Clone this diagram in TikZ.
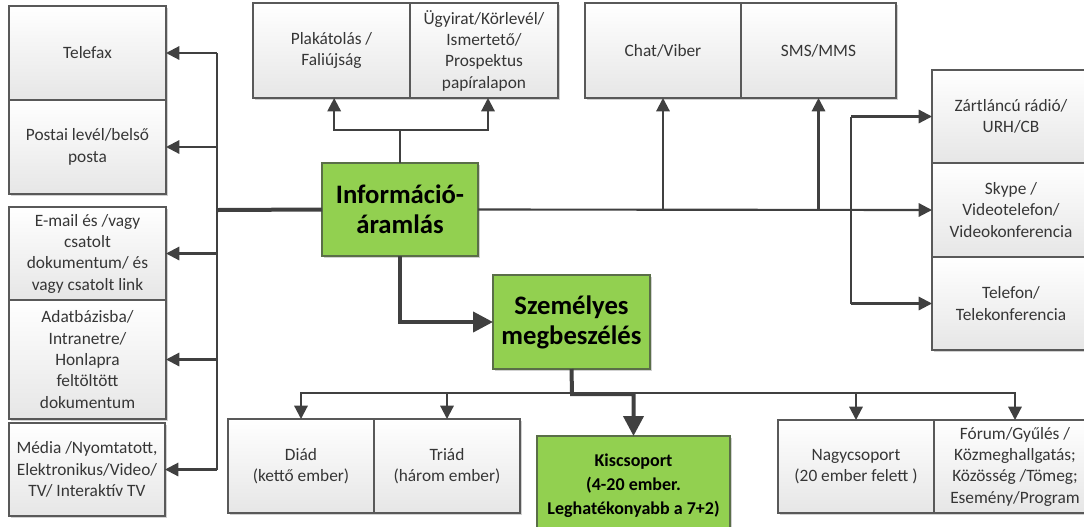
\documentclass[tikz,border=0pt]{standalone}
\usepackage{fontspec}
\setmainfont{Carlito}
\usetikzlibrary{arrows.meta,shadows}

\definecolor{ln}{HTML}{404040}
\definecolor{boxline}{HTML}{595959}
\definecolor{txt}{HTML}{363636}
\definecolor{gfill}{HTML}{92D050}
\definecolor{gline}{HTML}{5A6E48}
\definecolor{boxbot}{HTML}{E6E6E6}

\tikzset{
  sz/.style 2 args={minimum width=#1*0.75pt, minimum height=#2*0.75pt},
  base/.style={inner sep=1pt, outer sep=0pt, align=center,
    drop shadow={shadow xshift=1.2pt, shadow yshift=-1.2pt, opacity=0.18, fill=black}},
  box/.style={base, draw=boxline, line width=0.8pt, top color=white, bottom color=boxbot,
    text=txt, font=\fontsize{13}{16}\selectfont},
  gbox/.style={base, draw=gline, line width=0.8pt, fill=gfill, text=black},
  bigtxt/.style={font=\fontsize{20}{22.5}\selectfont\bfseries},
  midtxt/.style={font=\fontsize{13.5}{18.2}\selectfont\bfseries},
  conn/.style={draw=ln, line width=1.6pt},
  thickconn/.style={draw=ln, line width=3pt},
  arr/.style={conn, -{Triangle[length=10pt,width=10pt]}},
  thickarr/.style={thickconn, -{Triangle[length=15pt,width=15pt]}},
}

\begin{document}
\begin{tikzpicture}[x=0.75pt,y=-0.75pt]
\useasboundingbox (0,0) rectangle (1084,526);

% left column
\node[box, sz={157}{94}]  (telefax) at (87.5,53)    {Telefax};
\node[box, sz={157}{94}]  (postai)  at (87.5,147)   {Postai levél/belső\\posta};
\node[box, sz={157}{93}]  (email)   at (87.5,253.5) {E-mail és /vagy\\csatolt\\dokumentum/ és\\vagy csatolt link};
\node[box, sz={157}{119}] (adat)    at (87.5,359.5) {Adatbázisba/\\Intranetre/\\Honlapra\\feltöltött\\dokumentum};
\node[box, sz={156}{93}]  (media)   at (87,469.5)   {Média /Nyomtatott,\\Elektronikus/Video/\\TV/ Interaktív TV};

% top row
\node[box, sz={157}{95}] (plakat)  at (331.5,50.5) {Plakátolás /\\Faliújság};
\node[box, sz={148}{95}] (ugyirat) at (484,50.5)   {Ügyirat/Körlevél/\\Ismertető/\\Prospektus\\papíralapon};
\node[box, sz={156}{95}] (chat)    at (663,50.5)   {Chat/Viber};
\node[box, sz={155}{95}] (sms)     at (818.5,50.5) {SMS/MMS};

% right column
\node[box, sz={158}{93}] (zart)    at (1011,116.5) {Zártláncú rádió/\\URH/CB};
\node[box, sz={158}{94}] (skype)   at (1011,210)   {Skype /\\Videotelefon/\\Videokonferencia};
\node[box, sz={158}{93}] (telefon) at (1011,303.5) {Telefon/\\Telekonferencia};

% central nodes
\node[gbox, bigtxt, sz={156}{93}] (info) at (400,209.5) {Információ-\\áramlás};
\node[gbox, bigtxt, sz={157}{94}] (szem) at (571.5,322) {Személyes\\megbeszélés};

% bottom row
\node[box, sz={146}{94}] (diad)  at (301,466)   {Diád\\(kettő ember)};
\node[box, sz={146}{94}] (triad) at (447,466)   {Triád\\(három ember)};
\node[gbox, midtxt, sz={193}{96}, text depth=0pt] (kis) at (633.5,484) {Kiscsoport\\(4-20 ember.\\Leghatékonyabb a 7+2)};
\node[box, sz={156}{93}] (nagy)  at (856,466.5) {Nagycsoport\\(20 ember felett )};
\node[box, sz={162}{93}] (forum) at (1015,466.5) {Fórum/Gyűlés /\\Közmeghallgatás;\\Közösség /Tömeg;\\Esemény/Program};

% junction points
\coordinate (lb) at (217,210);
\coordinate (tj) at (400,130);
\coordinate (rb) at (851,210);
\coordinate (bj) at (572,393);

% left branch
\draw[thickconn] (info.west) -- (lb);
\draw[conn] (lb |- telefax) -- (lb |- media);
\foreach \n in {telefax,postai,email,adat,media}
  \draw[arr] (lb |- \n) -- (\n.east);

% upward branch
\draw[conn] (info.north) -- (tj);
\draw[arr] (tj) -| ([xshift=2pt]plakat.south);
\draw[arr] (tj) -| ([xshift=3pt]ugyirat.south);

% right branch
\draw[arr] (info.east) -- (skype.west);
\draw[arr] (chat.south |- info.east) -- (chat.south);
\draw[arr] (sms.south |- info.east) -- (sms.south);
\draw[conn] (rb |- zart) -- (rb |- telefon);
\draw[arr] (rb |- zart) -- (zart.west);
\draw[arr] (rb |- telefon) -- (telefon.west);

% personal discussion
\draw[thickarr] (info.south) |- (szem.west);

% group sizes
\draw[arr] (bj) -| (diad.north);
\draw[arr] (bj) -| (triad.north);
\draw[arr] (bj) -| (nagy.north);
\draw[arr] (bj) -| (forum.north);
\draw[thickarr] (szem.south) -- ([yshift=-0.8pt]bj) -| (kis.north);
\end{tikzpicture}
\end{document}
